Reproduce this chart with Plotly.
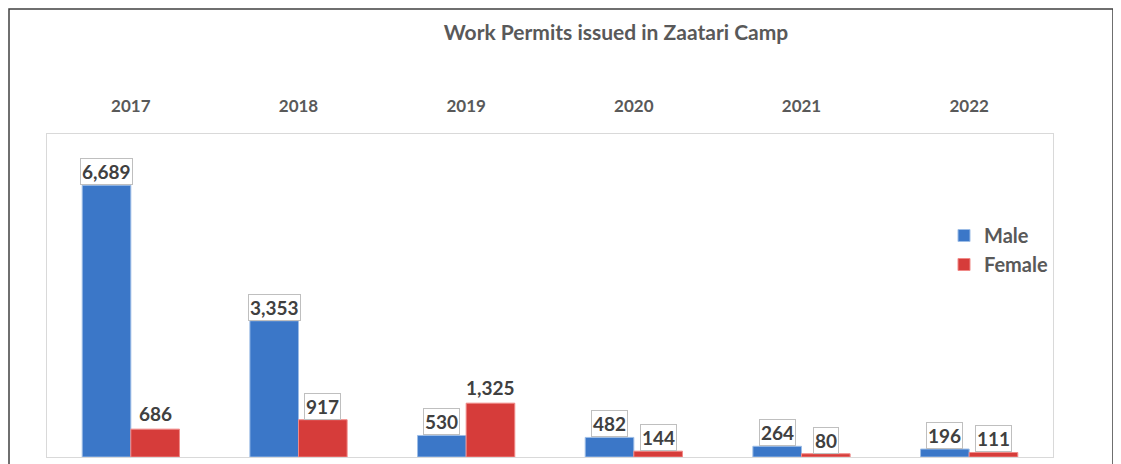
import plotly.graph_objects as go

years = ["2017", "2018", "2019", "2020", "2021", "2022"]
male = [6689, 3353, 530, 482, 264, 196]
female = [686, 917, 1325, 144, 80, 111]
# which labels are drawn in a callout box
male_boxed = [True, True, True, True, True, True]
female_boxed = [False, True, False, True, True, True]

W, H = 1121, 464
OFF = 8  # page body margin offset
# desired plot area in page pixels
PL, PR, PT, PB = 47, 1053, 134, 457
ML = PL - OFF
MT = PT - OFF
MR = W - (PR - OFF)
MB = H - (PB - OFF)
plot_w = PR - PL
plot_h = PB - PT
BARGAP = 0.42
cat_px = plot_w / len(years)
bar_px = cat_px * (1 - BARGAP) / 2

FONT = "Lato"
GREY = "#595959"
LBL = "#404040"
BLUE = "#3b77c8"
RED = "#d63c3a"


def px_x(px):
    return (px - PL) / plot_w


def px_y(py):
    return (PB - py) / plot_h


fig = go.Figure()
fig.add_trace(go.Bar(name="Male", x=years, y=male, marker=dict(color=BLUE, line=dict(color="#9dbde6", width=1))))
fig.add_trace(go.Bar(name="Female", x=years, y=female, marker=dict(color=RED, line=dict(color="#f08a88", width=1))))

annotations = []
for vals, boxed, sign in ((male, male_boxed, -1), (female, female_boxed, 1)):
    for i, (v, b) in enumerate(zip(vals, boxed)):
        annotations.append(dict(
            x=i, y=v, xref="x", yref="y", text=f"{v:,}", showarrow=False,
            xshift=sign * bar_px / 2, yanchor="bottom", yshift=0 if b else 2,
            font=dict(family=FONT, size=19, color=LBL, weight="bold"),
            bgcolor="white" if b else "rgba(0,0,0,0)",
            bordercolor="#bfbfbf" if b else "rgba(0,0,0,0)", borderwidth=1, borderpad=1,
        ))

fig.update_layout(
    width=W, height=H,
    margin=dict(l=ML, r=MR, t=MT, b=MB),
    paper_bgcolor="white", plot_bgcolor="white",
    barmode="group", bargap=BARGAP, bargroupgap=0,
    title=dict(text="Work Permits issued in Zaatari Camp", x=px_x(616), xref="paper",
               xanchor="center", y=1 - (33 - OFF) / H, yref="container", yanchor="middle",
               font=dict(family=FONT, size=21, color=GREY, weight="bold")),
    xaxis=dict(type="category", range=[-0.5, len(years) - 0.5], side="top", showline=True, mirror=True,
               linecolor="#d9d9d9", linewidth=1, ticks="", ticklabelstandoff=14,
               tickfont=dict(family=FONT, size=17, color=GREY, weight="bold")),
    yaxis=dict(range=[0, 7950], showgrid=False, showticklabels=False, zeroline=False,
               showline=True, mirror=True, linecolor="#d9d9d9", linewidth=1),
    legend=dict(x=px_x(944), y=px_y(216), xanchor="left", yanchor="top",
                bgcolor="rgba(0,0,0,0)", tracegroupgap=0,
                font=dict(family=FONT, size=20, color=GREY, weight="bold")),
    annotations=annotations,
    shapes=[dict(type="rect", xref="paper", yref="paper",
                 x0=px_x(9), x1=px_x(1113), y0=px_y(480), y1=px_y(9),
                 line=dict(color="#404040", width=1.5), fillcolor="rgba(0,0,0,0)", layer="below")],
)

fig.write_html("out.html")
